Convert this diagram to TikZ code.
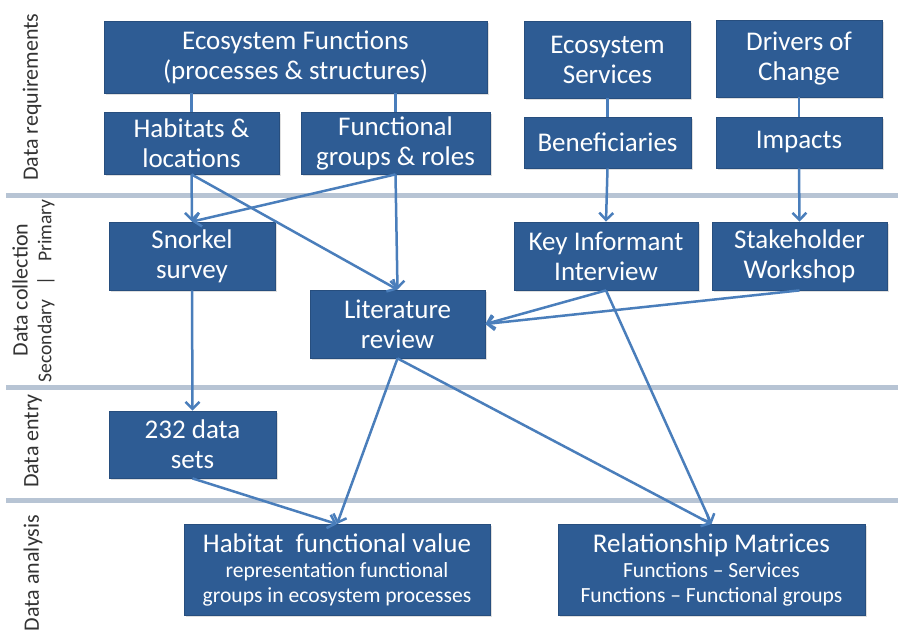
\documentclass[tikz,border=0pt]{standalone}
\usepackage{fontspec}
\setmainfont{Carlito}
\usepackage{tikz}
\usetikzlibrary{shadows}
\usetikzlibrary{positioning}
\usetikzlibrary{arrows.meta,shapes}
\usetikzlibrary{calc}

\definecolor{boxblue}{RGB}{46,92,148}
\definecolor{arrowblue}{RGB}{74,126,187}
\definecolor{sepgrey}{RGB}{183,196,212}

\newcommand{\subfont}{\fontsize{10.8}{12.3}\selectfont}

\tikzset{
  box/.style={fill=boxblue, draw=boxblue!85!black, line width=0.4pt, text=white, align=flush center, inner sep=0pt,
              font=\fontsize{13.5}{15}\selectfont, drop shadow={opacity=0.25, shadow xshift=0.8pt, shadow yshift=-0.8pt}},
  link/.style={draw=arrowblue, line width=1.25pt},
  arr/.style={link, -{Straight Barb[length=3.5pt,width=7pt]}},
  lab/.style={rotate=90, text=black!80, font=\fontsize{11}{13}\selectfont},
  sep/.style={draw=sepgrey, line width=2.5pt}
}

\begin{document}
\begin{tikzpicture}[x=0.5pt, y=-0.5pt, auto,swap]

  \def\w{898};
  \def\h{630};

  \fill[white] (0,0) rectangle (\w,\h);
  \useasboundingbox (0,0) rectangle (\w,\h);

  %separators
    \foreach \y in {196,387,500}{
         \draw[sep] (6,\y) -- (\w,\y);
    }

  %row labels
    \foreach \x/\y/\num/\name in {32/97/Data requirements/lreq, 20/290/Data collection/lcol, 33/441/Data entry/lent, 33/573/Data analysis/lana}{
         \node[lab] (\name) at (\x,\y) {\num};
    }
    \node[lab, font=\fontsize{9.8}{11}\selectfont] (lsub) at (46,291) {Secondary\ \enspace|\enspace\ Primary};

  %boxes
    \foreach \x/\y/\bw/\bh/\name/\num in {
          295.5/57/383/72/ef/{Ecosystem Functions\\(processes \& structures)},
          191.5/143/175/62/hl/{Habitats \&\\locations},
          395.5/143/189/62/fg/{Functional\\groups \& roles},
          607.5/59.5/166/77/es/{Ecosystem\\Services},
          799/58.5/166/77/dc/{Drivers of\\Change},
          607.5/142.5/167/51/ben/{Beneficiaries},
          799/142.5/166/51/imp/{Impacts},
          192/256/166/68/snk/{Snorkel\\survey},
          397.5/324/175/68/lit/{Literature\\review},
          606/256/184/68/ki/{Key Informant\\Interview},
          799.5/256/175/68/sw/{Stakeholder\\Workshop},
          192.5/444.5/167/67/ds/{232 data\\sets},
          337/570/306/91/hfv/{Habitat\ \ functional value\\\subfont representation functional\\[-2.5pt]groups in ecosystem processes},
          711.5/570/307/91/rm/{Relationship Matrices\\\subfont Functions \textendash\ Services\\[-2.5pt]Functions \textendash\ Functional groups}}{
         \pgfmathsetmacro\tw{\bw*0.5-2}
         \node[box, text width=\tw pt, minimum width=\bw*0.5pt, minimum height=\bh*0.5pt] (\name) at (\x,\y) {\num};
    }

  %links inside requirements
    \foreach \a/\b in {ef/hl, ef/fg, es/ben, dc/imp}{
         \draw[link] (\b.north) -- (\b.north |- \a.south);
    }

  %arrows
    \foreach \a/\b in {hl/snk, hl/lit, fg/snk, fg/lit, ben/ki, imp/sw, snk/ds, ds/hfv, lit/hfv, lit/rm, ki/rm}{
         \draw[arr] (\a.south) -- (\b.north);
    }
    \foreach \a in {ki, sw}{
         \draw[arr] (\a.south) -- (lit.east);
    }

\end{tikzpicture}
\end{document}
